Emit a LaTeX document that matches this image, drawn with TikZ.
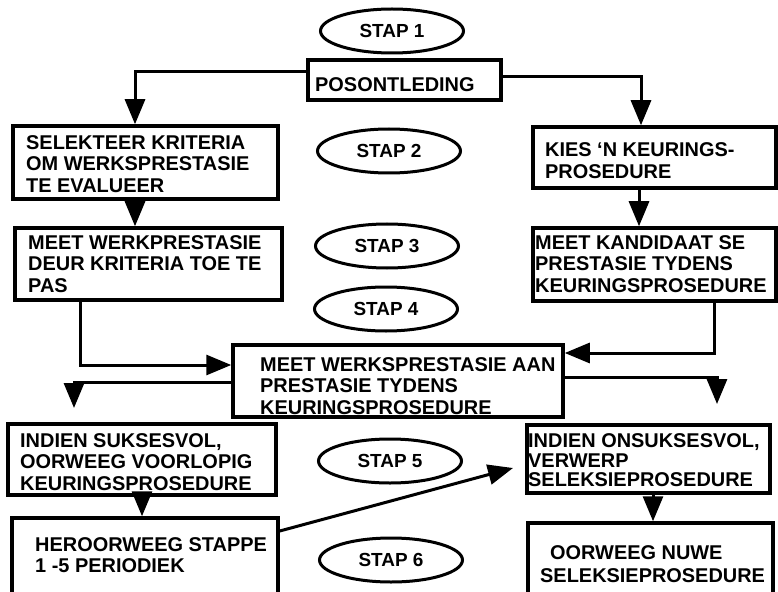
\documentclass[tikz,border=0pt]{standalone}
\usepackage{fontspec}
\setmainfont{Liberation Sans}
\usetikzlibrary{arrows.meta,shapes.geometric}
\begin{document}
\begin{tikzpicture}[x=1bp,y=-1bp,
  box/.style={draw, line width=3.5bp, rectangle, inner sep=0pt},
  oval/.style={draw, ellipse, line width=3bp, inner sep=0pt, minimum width=143bp, minimum height=44bp, font=\fontsize{19}{21}\selectfont\bfseries},
  txt/.style={anchor=north west, inner sep=0pt, align=left, font=\fontsize{20}{21.7}\selectfont\bfseries},
  arr/.style={line width=3bp, -{Triangle[length=25bp,width=20bp]}}]
\useasboundingbox (0,0) rectangle (778,592);

% step ellipses
\node[oval] (s1) at (392,31) {STAP 1};
\node[oval] (s2) at (389,151) {STAP 2};
\node[oval] (s3) at (387,246) {STAP 3};
\node[oval] (s4) at (386,309) {STAP 4};
\node[oval] (s5) at (390,461) {STAP 5};
\node[oval] (s6) at (391,560) {STAP 6};

% boxes
\node[box, minimum width=193bp, minimum height=40bp] (pos) at (404.5,80) {};
\node[box, minimum width=265bp, minimum height=73bp] (sel) at (145.5,162.5) {};
\node[box, minimum width=243bp, minimum height=61bp] (kies) at (654.5,157.5) {};
\node[box, minimum width=267bp, minimum height=72bp] (mw) at (148.5,264) {};
\node[box, minimum width=243bp, minimum height=73bp] (mk) at (654.5,264.5) {};
\node[box, minimum width=330bp, minimum height=72bp] (cen) at (398,381) {};
\node[box, minimum width=268bp, minimum height=71bp] (suk) at (142,459.5) {};
\node[box, minimum width=243bp, minimum height=68bp] (onsuk) at (648.5,459) {};
\node[box, minimum width=266bp, minimum height=78bp] (her) at (145,557) {};
\node[box, minimum width=245bp, minimum height=73bp] (oor) at (650.5,559.5) {};

% texts
\node[txt] (tpos) at (315,77) {POSONTLEDING};
\node[txt] (tsel) at (26,135) {SELEKTEER KRITERIA\\OM WERKSPRESTASIE\\TE EVALUEER};
\node[txt, font=\fontsize{20}{22.5}\selectfont\bfseries] (tkies) at (545,142) {KIES ‘N KEURINGS-\\PROSEDURE};
\node[txt] (tmw) at (28,235) {MEET WERKPRESTASIE\\DEUR KRITERIA TOE TE\\PAS};
\node[txt] (tmk) at (535,235) {MEET KANDIDAAT SE\\PRESTASIE TYDENS\\KEURINGSPROSEDURE};
\node[txt] (tcen) at (260,357) {MEET WERKSPRESTASIE AAN\\PRESTASIE TYDENS\\KEURINGSPROSEDURE};
\node[txt] (tsuk) at (20,433) {INDIEN SUKSESVOL,\\OORWEEG VOORLOPIG\\KEURINGSPROSEDURE};
\node[txt, font=\fontsize{20}{20}\selectfont\bfseries] (tonsuk) at (528,433) {INDIEN ONSUKSESVOL,\\VERWERP\\SELEKSIEPROSEDURE};
\node[txt, font=\fontsize{20}{21}\selectfont\bfseries] (ther) at (35,537) {HEROORWEEG STAPPE\\1 -5 PERIODIEK};
\node[txt, font=\fontsize{20}{23}\selectfont\bfseries] (toor) at (540,545) {\hspace*{10bp}OORWEEG NUWE\\SELEKSIEPROSEDURE};

% free ends
\coordinate (e1) at (74,408);
\coordinate (e2) at (717,404);
\coordinate (e3) at (513,468);

% connectors
\draw[arr] (pos.west |- 0,72) -| (sel.north -| 135,0);
\draw[arr] (pos.east |- 0,77) -| (kies.north -| 641,0);
\draw[arr] (sel.south -| 135,0) -- (mw.north -| 135,0);
\draw[arr] (kies.south -| 639,0) -- (mk.north -| 639,0);
\draw[arr] (mw.south -| 80,0) |- (cen.west |- 0,365);
\draw[arr] (mk.south -| 714,0) |- (cen.east |- 0,353);
\draw[arr] (cen.west |- 0,382) -| (e1);
\draw[arr] (cen.east |- 0,377) -| (e2);
\draw[arr] (suk.south -| 142,0) -- (her.north -| 142,0);
\draw[arr] (her.east |- 0,531) -- (e3);
\draw[arr] (onsuk.south -| 653,0) -- (oor.north -| 653,0);
\end{tikzpicture}
\end{document}
